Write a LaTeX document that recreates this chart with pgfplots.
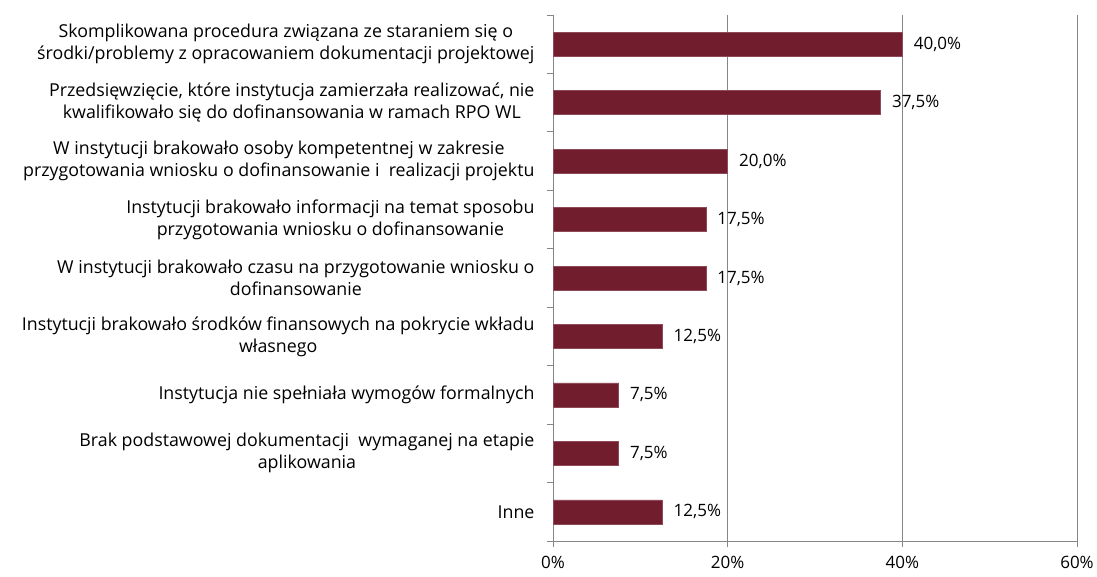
\documentclass[border=0pt]{standalone}
\usepackage{fontspec}
\setmainfont{Open Sans}
\usepackage{pgfplots}
\pgfplotsset{compat=1.18}
\definecolor{barred}{RGB}{114,29,46}
\definecolor{gridgray}{RGB}{134,134,134}
\begin{document}
\begin{tikzpicture}
\begin{axis}[
  at={(553pt,35pt)}, anchor=south west,
  scale only axis, width=524pt, height=526pt,
  xbar, bar width=24pt,
  xmin=0, xmax=60,
  ymin=-0.5, ymax=8.5, y dir=reverse,
  /pgf/number format/assume math mode=true,
  xtick={0,20,40,60},
  xticklabels={0\%,20\%,40\%,60\%},
  ytick={0,...,8},
  yticklabels={
    {Skomplikowana procedura związana ze staraniem się o\\środki/problemy z opracowaniem dokumentacji projektowej},
    {Przedsięwzięcie, które instytucja zamierzała realizować, nie\\kwalifikowało się do dofinansowania w ramach RPO WL},
    {W instytucji brakowało osoby kompetentnej w zakresie\\przygotowania wniosku o dofinansowanie i\ \ realizacji projektu},
    {Instytucji brakowało informacji na temat sposobu\\przygotowania wniosku o dofinansowanie},
    {W instytucji brakowało czasu na przygotowanie wniosku o\\dofinansowanie},
    {Instytucji brakowało środków finansowych na pokrycie wkładu\\własnego},
    {Instytucja nie spełniała wymogów formalnych},
    {Brak podstawowej dokumentacji\ \ wymaganej na etapie\\aplikowania},
    {Inne}},
  yticklabel style={align=center, font=\fontsize{17.8}{22}\selectfont, xshift=-9pt},
  xticklabel style={font=\fontsize{17}{20}\selectfont, yshift=-6pt},
  major y tick style={draw=none},
  minor ytick={-0.5,0.5,...,8.5},
  minor tick length=6pt,
  major tick length=6pt,
  tick align=outside,
  xtick pos=bottom, ytick pos=left,
  xmajorgrids, grid style={gridgray, line width=0.9pt},
  axis line style={gridgray, line width=0.9pt},
  tick style={gridgray, line width=0.9pt},
  axis x line*=bottom, axis y line*=left,
  point meta=x,
  nodes near coords={\pgfmathprintnumber[fixed,fixed zerofill,precision=1,use comma,assume math mode=true]{\pgfplotspointmeta}\%},
  nodes near coords style={font=\fontsize{17}{20}\selectfont, black, anchor=west, xshift=8pt},
]
\addplot[fill=barred, draw=barred!80!white] coordinates {
  (40,0) (37.5,1) (20,2) (17.5,3) (17.5,4) (12.5,5) (7.5,6) (7.5,7) (12.5,8)};
\end{axis}
\pgfresetboundingbox
\path (0,0) rectangle (1097pt,576pt);
\end{tikzpicture}
\end{document}
